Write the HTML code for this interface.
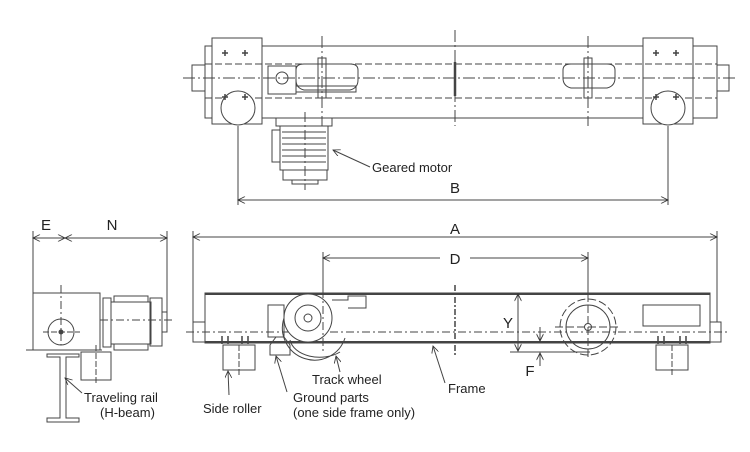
<!DOCTYPE html>
<html><head><meta charset="utf-8"><style>
html,body{margin:0;padding:0;background:#fff}
svg{display:block}
text{font-family:"Liberation Sans",sans-serif;fill:#222}
</style></head><body>
<svg width="750" height="452" viewBox="0 0 750 452" xmlns="http://www.w3.org/2000/svg">
<defs>
<marker id="ar" viewBox="0 0 10 10" refX="10" refY="5" markerWidth="9" markerHeight="7" orient="auto-start-reverse" markerUnits="userSpaceOnUse"><path d="M0,0 L10,5 L0,10" fill="none" stroke="#333" stroke-width="1.2"/></marker>
</defs>
<g stroke="#444" stroke-width="1" fill="none">
<!-- TOP VIEW -->
<rect x="205" y="46" width="512" height="72"/>
<rect x="212" y="38" width="50" height="86" fill="#fff"/>
<rect x="643" y="38" width="50" height="86" fill="#fff"/>
<rect x="192" y="65" width="13" height="26"/>
<rect x="717" y="65" width="12" height="26"/>
<line x1="205" y1="64" x2="717" y2="64" stroke-dasharray="7,3"/>
<line x1="205" y1="98" x2="717" y2="98" stroke-dasharray="7,3"/>
<line x1="183" y1="78" x2="738" y2="78" stroke-dasharray="12,3,2,3"/>
<line x1="455" y1="30" x2="455" y2="126" stroke-dasharray="12,3,2,3"/>
<line x1="455" y1="62" x2="455" y2="96" stroke-width="2.5"/>
<line x1="322" y1="36" x2="322" y2="126" stroke-dasharray="12,3,2,3"/>
<line x1="588" y1="36" x2="588" y2="126" stroke-dasharray="12,3,2,3"/>
<circle cx="238" cy="108" r="17" fill="#fff"/>
<circle cx="668" cy="108" r="17" fill="#fff"/>
<g stroke-width="1.5"><path d="M222,53h6M225,50v6M242,53h6M245,50v6M222,97h6M225,94v6M242,97h6M245,94v6M653,53h6M656,50v6M673,53h6M676,50v6M653,97h6M656,94v6M673,97h6M676,94v6"/></g>
<rect x="268" y="66" width="28" height="28"/>
<circle cx="282" cy="78" r="6"/>
<path d="M296,70 q0,-6 8,-6 h46 q8,0 8,6 v10 q0,8 -8,10 h-46 q-8,-2 -8,-10z"/>
<rect x="296" y="86" width="60" height="6"/>
<path d="M563,70 q0,-6 8,-6 h36 q8,0 8,6 v8 q0,8 -8,10 h-36 q-8,-2 -8,-10z"/>
<rect x="318" y="58" width="8" height="40"/>
<rect x="584" y="58" width="8" height="40"/>
<rect x="276" y="118" width="56" height="8"/>
<rect x="280" y="126" width="48" height="44"/>
<path d="M282,132h44M282,138h44M282,144h44M282,150h44M282,156h44M282,162h44"/>
<rect x="272" y="130" width="8" height="32"/>
<rect x="283" y="170" width="44" height="10"/>
<path d="M292,180 h26 v4 h-26z"/>
<line x1="305" y1="112" x2="305" y2="190" stroke-dasharray="10,3,2,3"/>
<line x1="370" y1="167" x2="333" y2="150" marker-end="url(#ar)"/>
<line x1="238" y1="126" x2="238" y2="205"/>
<line x1="668" y1="126" x2="668" y2="205"/>
<line x1="238" y1="200" x2="668" y2="200" marker-start="url(#ar)" marker-end="url(#ar)"/>

<!-- FRONT VIEW -->
<line x1="193" y1="231" x2="193" y2="322"/>
<line x1="717" y1="231" x2="717" y2="322"/>
<line x1="193" y1="237" x2="717" y2="237" marker-start="url(#ar)" marker-end="url(#ar)"/>
<line x1="323" y1="252" x2="323" y2="300"/>
<line x1="588" y1="252" x2="588" y2="300"/>
<line x1="323" y1="258" x2="440" y2="258" marker-start="url(#ar)"/>
<line x1="470" y1="258" x2="588" y2="258" marker-end="url(#ar)"/>
<rect x="205" y="293" width="505" height="50" fill="#fff"/>
<line x1="205" y1="294" x2="710" y2="294" stroke-width="2"/>
<line x1="205" y1="342" x2="710" y2="342" stroke-width="2"/>
<rect x="193" y="322" width="12" height="20"/>
<rect x="710" y="322" width="11" height="20"/>
<line x1="186" y1="332" x2="728" y2="332" stroke-dasharray="8,3,2,3"/>
<line x1="455" y1="285" x2="455" y2="355" stroke-dasharray="6,2,2,2" stroke-width="1.5"/>
<circle cx="588" cy="327" r="28" stroke-dasharray="8,3"/>
<circle cx="588" cy="327" r="22"/>
<circle cx="588" cy="327" r="3.5"/>
<line x1="555" y1="327" x2="621" y2="327" stroke-dasharray="8,3"/>
<line x1="588" y1="294" x2="588" y2="360" stroke-dasharray="8,3"/>
<rect x="643" y="305" width="57" height="21"/>
<circle cx="308" cy="318" r="24" fill="#fff"/>
<circle cx="308" cy="318" r="13"/>
<circle cx="308" cy="318" r="4"/>
<path d="M284,318 A26,26 0 0 0 345,338 M290,340 a30,20 0 0 0 50,12"/>
<rect x="268" y="305" width="16" height="32"/>
<path d="M332,300 h16 v-4 h18 v12 h-18"/>
<path d="M270,345 l6,-8 h8 l6,8 v10 h-20z"/>
<line x1="323" y1="290" x2="323" y2="352" stroke-dasharray="8,3,2,3"/>
<path d="M218,343 h40 M223,345 h32 v25 h-32z M653,343 h40 M656,345 h32 v25 h-32z"/>
<path d="M222,336v8M228,336v8M242,336v8M248,336v8M658,336v8M664,336v8M680,336v8M686,336v8" stroke-width="1.5"/>
<line x1="239" y1="345" x2="239" y2="375" stroke-dasharray="6,2"/>
<line x1="672" y1="345" x2="672" y2="375" stroke-dasharray="6,2"/>
<line x1="510" y1="293" x2="525" y2="293"/>
<line x1="518" y1="294" x2="518" y2="351" marker-start="url(#ar)" marker-end="url(#ar)"/>
<line x1="510" y1="352" x2="590" y2="352"/>
<line x1="540" y1="327" x2="540" y2="341" marker-end="url(#ar)"/>
<line x1="540" y1="366" x2="540" y2="353" marker-end="url(#ar)"/>
<line x1="229" y1="395" x2="228" y2="371" marker-end="url(#ar)"/>
<line x1="287" y1="392" x2="276" y2="356" marker-end="url(#ar)"/>
<line x1="340" y1="372" x2="336" y2="356" marker-end="url(#ar)"/>
<line x1="445" y1="383" x2="433" y2="346" marker-end="url(#ar)"/>

<!-- SIDE VIEW -->
<line x1="33" y1="231" x2="33" y2="295"/>
<line x1="167" y1="231" x2="167" y2="312"/>
<line x1="33" y1="238" x2="65" y2="238" marker-start="url(#ar)" marker-end="url(#ar)"/>
<line x1="65" y1="238" x2="167" y2="238" marker-start="url(#ar)" marker-end="url(#ar)"/>
<rect x="33" y="293" width="67" height="57"/>
<line x1="26" y1="350" x2="102" y2="350"/>
<rect x="103" y="298" width="8" height="49"/>
<rect x="111" y="302" width="40" height="42"/>
<path d="M114,302v-6h34v6 M114,344v6h34v-6" />
<rect x="150" y="298" width="12" height="48"/>
<rect x="162" y="312" width="5" height="20"/>
<circle cx="61" cy="332" r="13"/>
<circle cx="61" cy="332" r="2" fill="#444"/>
<line x1="61" y1="285" x2="61" y2="345" stroke-dasharray="8,3,2,3"/>
<line x1="43" y1="332" x2="80" y2="332" stroke-dasharray="6,2"/>
<line x1="100" y1="320" x2="172" y2="320" stroke-dasharray="8,3,2,3"/>
<path d="M47,354 h32 v3 h-13 v61 h13 v4 h-32 v-4 h13 v-61 h-13z"/>
<rect x="81" y="352" width="30" height="28"/>
<line x1="96" y1="345" x2="96" y2="384" stroke-dasharray="6,2"/>
<line x1="82" y1="393" x2="65" y2="378" marker-end="url(#ar)"/>
</g>
<g font-size="15" text-anchor="middle">
<text x="455" y="193">B</text>
<text x="455" y="234">A</text>
<text x="455" y="264">D</text>
<text x="46" y="230">E</text>
<text x="112" y="230">N</text>
<text x="508" y="328">Y</text>
<text x="530" y="376">F</text>
</g>
<g font-size="13">
<text x="372" y="172">Geared motor</text>
<text x="312" y="384">Track wheel</text>
<text x="448" y="393">Frame</text>
<text x="203" y="413">Side roller</text>
<text x="293" y="402">Ground parts</text>
<text x="293" y="417">(one side frame only)</text>
<text x="84" y="402">Traveling rail</text>
<text x="100" y="417">(H-beam)</text>
</g>
</svg>
</body></html>
